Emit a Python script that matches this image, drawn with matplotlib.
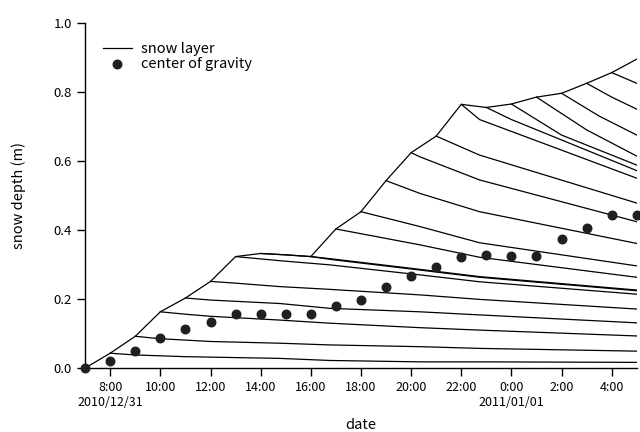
import matplotlib
matplotlib.use("Agg")
import matplotlib.pyplot as plt

plt.rcParams['font.family'] = ['Noto Sans CJK JP', 'DejaVu Sans']

# hours since 2010/12/31 7:00
hours = list(range(23))
tick_hours = [1, 3, 5, 7, 9, 11, 13, 15, 17, 19, 21]
tick_labels = ["8:00\n2010/12/31", "10:00", "12:00", "14:00", "16:00", "18:00",
               "20:00", "22:00", "0:00\n2011/01/01", "2:00", "4:00"]

# snow surface at each hour (m)
surface = [0.0, 0.043, 0.092, 0.163, 0.203, 0.251, 0.323, 0.332, 0.328, 0.323,
           0.403, 0.453, 0.543, 0.624, 0.672, 0.764, 0.755, 0.765, 0.785, 0.796,
           0.825, 0.856, 0.895]

# center of gravity (m)
cog = [0.0, 0.021, 0.05, 0.086, 0.114, 0.133, 0.157, 0.157, 0.157, 0.157,
       0.18, 0.197, 0.236, 0.267, 0.294, 0.321, 0.328, 0.325, 0.325, 0.374,
       0.407, 0.442, 0.444]

# snow layers: (time, depth)
layer_t = [
    [1, 2, 4, 7.77, 9.76, 13.35, 15.73, 22],
    [2, 3, 5, 7.77, 9.76, 13.35, 15.73, 22],
    [3, 4, 5, 7.77, 9.76, 13.35, 15.73, 22],
    [4, 5, 7.77, 9.76, 13.35, 15.73, 22],
    [5, 6, 7.77, 9.76, 13.35, 15.73, 22],
    [6, 7.77, 9.76, 13.35, 15.73, 22],
    [7, 8, 9, 9.76, 13.35, 15.73, 22],
    [9, 9.76, 13.35, 15.73, 22],
    [10, 13.35, 15.73, 22],
    [11, 13.35, 15.73, 22],
    [12, 13.35, 15.73, 22],
    [13, 13.35, 15.73, 22],
    [14, 15.73, 22],
    [15, 15.73, 22],
    [16, 17, 22],
    [17, 19, 22],
    [18, 20, 22],
    [19, 20.5, 22],
    [20, 21, 22],
    [21, 22],
]
layer_d = [
    [0.043, 0.038, 0.033, 0.028, 0.022, 0.018, 0.018, 0.0165],
    [0.092, 0.085, 0.077, 0.072, 0.067, 0.062, 0.057, 0.049],
    [0.163, 0.156, 0.150, 0.139, 0.130, 0.117, 0.110, 0.093],
    [0.203, 0.197, 0.187, 0.173, 0.163, 0.154, 0.131],
    [0.251, 0.246, 0.236, 0.228, 0.212, 0.199, 0.171],
    [0.323, 0.311, 0.299, 0.270, 0.250, 0.214],
    [0.332, 0.328, 0.323, 0.315, 0.284, 0.263, 0.224],
    [0.323, 0.317, 0.286, 0.265, 0.226],
    [0.403, 0.357, 0.321, 0.263],
    [0.453, 0.41, 0.363, 0.296],
    [0.543, 0.506, 0.453, 0.361],
    [0.624, 0.612, 0.545, 0.424],
    [0.672, 0.617, 0.478],
    [0.764, 0.72, 0.55],
    [0.755, 0.72, 0.572],
    [0.765, 0.675, 0.588],
    [0.785, 0.69, 0.614],
    [0.796, 0.73, 0.675],
    [0.825, 0.785, 0.75],
    [0.856, 0.825],
]

fig = plt.figure(figsize=(6.4, 4.32), dpi=100)
ax = fig.add_axes([0.133, 0.148, 0.862, 0.799])

ax.plot(hours, surface, color="black", lw=0.9, label="snow layer")
for t, d in zip(layer_t, layer_d):
    ax.plot(t, d, color="black", lw=0.9)
ax.scatter(hours, cog, s=38, color="#231f20", zorder=3, clip_on=False,
           label="center of gravity")

ax.set_xlim(0, 22)
ax.set_ylim(0, 1.0)
ax.set_xticks(tick_hours)
ax.set_xticklabels(tick_labels, fontsize=9)
ax.set_yticks([0.0, 0.2, 0.4, 0.6, 0.8, 1.0])
ax.set_yticklabels(["0.0", "0.2", "0.4", "0.6", "0.8", "1.0"], fontsize=9.5)
ax.tick_params(direction="out", length=6, width=1)
for s in ["top", "right"]:
    ax.spines[s].set_visible(False)
ax.spines["left"].set_linewidth(1)
ax.spines["bottom"].set_linewidth(1)

ax.set_xlabel("date", fontsize=10.5, labelpad=6)
ax.set_ylabel("snow depth (m)", fontsize=10.5, labelpad=20)

ax.legend(loc="upper left", bbox_to_anchor=(0.0, 0.995), frameon=False,
          fontsize=10.5, handlelength=2.0, handletextpad=0.6, borderaxespad=0.8,
          labelspacing=0.05)

fig.savefig("out.png", dpi=100)
